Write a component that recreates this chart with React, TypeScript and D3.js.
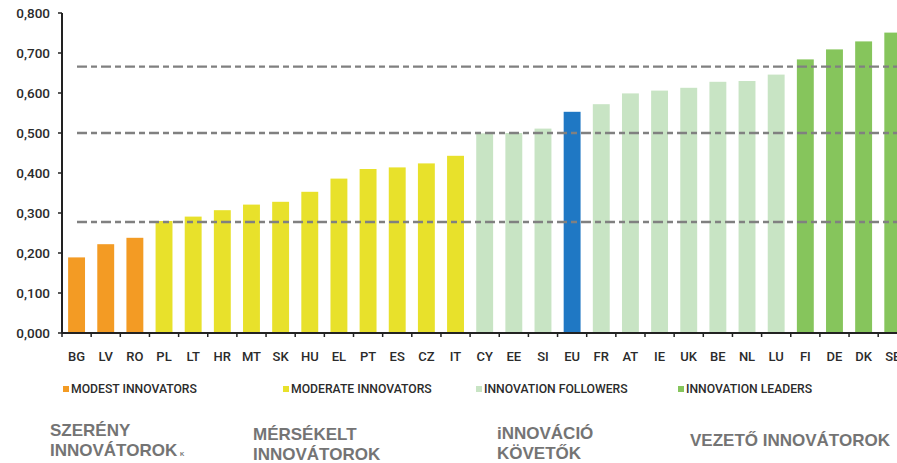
import * as d3 from "d3";

// EU innovation scoreboard, one bar per country
const countries = ["BG", "LV", "RO", "PL", "LT", "HR", "MT", "SK", "HU", "EL", "PT", "ES", "CZ", "IT", "CY", "EE", "SI", "EU", "FR", "AT", "IE", "UK", "BE", "NL", "LU", "FI", "DE", "DK", "SE"];
const scores = [0.189, 0.222, 0.238, 0.28, 0.291, 0.307, 0.321, 0.328, 0.353, 0.386, 0.41, 0.414, 0.424, 0.443, 0.499, 0.5, 0.511, 0.553, 0.572, 0.599, 0.606, 0.613, 0.628, 0.63, 0.646, 0.684, 0.709, 0.729, 0.751];
const groups = ["modest", "modest", "modest", "moderate", "moderate", "moderate", "moderate", "moderate", "moderate", "moderate", "moderate", "moderate", "moderate", "moderate", "follower", "follower", "follower", "eu", "follower", "follower", "follower", "follower", "follower", "follower", "follower", "leader", "leader", "leader", "leader"];
const thresholds = [0.2775, 0.5, 0.666];
const yTicks = [0, 0.1, 0.2, 0.3, 0.4, 0.5, 0.6, 0.7, 0.8];

const legendKeys = ["modest", "moderate", "follower", "leader"];
const legendLabels = ["MODEST INNOVATORS", "MODERATE INNOVATORS", "INNOVATION FOLLOWERS", "INNOVATION LEADERS"];
const legendX = [63, 283, 476, 678];

const COLORS: Record<string, string> = {
  modest: "#f39b24",
  moderate: "#e8e12b",
  follower: "#c8e4c4",
  eu: "#1f78c4",
  leader: "#86c55c",
};

const W = 897;
const H = 463;
const AXIS_FONT = "Roboto, 'Open Sans', sans-serif";
const HU_FONT = "'Liberation Sans', Arial, sans-serif";
const HU_FILL = "#747474";

export default function App() {
  const x = d3
    .scaleBand<string>()
    .domain(countries)
    .range([62, 62 + countries.length * 29.15])
    .paddingInner(0.42)
    .paddingOuter(0.21);
  const y = d3.scaleLinear().domain([0, 0.8]).range([333, 13]);
  const fmt = (d: number) => d3.format(".3f")(d).replace(".", ",");
  const step = x.step();

  return (
    <>
      <style>{"body{margin:0;background:#fff}"}</style>
      <svg width={W} height={H} style={{ display: "block" }}>
        <rect width={W} height={H} fill="#fff" />

        {/* bars */}
        {countries.map((c, i) => (
          <rect
            key={c}
            x={x(c)}
            y={y(scores[i])}
            width={x.bandwidth()}
            height={y(0) - y(scores[i])}
            fill={COLORS[groups[i]]}
          />
        ))}

        {/* group thresholds */}
        {thresholds.map((t) => (
          <line
            key={t}
            x1={77}
            x2={W}
            y1={y(t)}
            y2={y(t)}
            stroke="#808080"
            strokeWidth={2.4}
            strokeDasharray="10,4,6,4"
          />
        ))}

        {/* y axis */}
        <line x1={62} x2={62} y1={y(0.8)} y2={y(0)} stroke="#222" strokeWidth={2} />
        {yTicks.map((t) => (
          <g key={t} transform={`translate(0,${y(t)})`}>
            <line x1={58} x2={62} stroke="#222" strokeWidth={1.5} />
            <text
              x={50}
              dy="0.35em"
              textAnchor="end"
              fontFamily={AXIS_FONT}
              fontWeight={500}
              fontSize={13.5}
              fill="#2b2b2b"
            >
              {fmt(t)}
            </text>
          </g>
        ))}

        {/* x axis */}
        <line x1={62} x2={W} y1={y(0)} y2={y(0)} stroke="#222" strokeWidth={2} />
        {countries.map((c, i) => (
          <g key={c}>
            <line
              x1={62 + i * step}
              x2={62 + i * step}
              y1={y(0)}
              y2={y(0) + 4}
              stroke="#222"
              strokeWidth={1.5}
            />
            <text
              x={(x(c) ?? 0) + x.bandwidth() / 2}
              y={361}
              textAnchor="middle"
              fontFamily={AXIS_FONT}
              fontWeight={500}
              fontSize={13}
              fill="#2b2b2b"
            >
              {c}
            </text>
          </g>
        ))}

        {/* legend */}
        {legendKeys.map((k, i) => (
          <g key={k} transform={`translate(${legendX[i]},389)`}>
            <rect x={0} y={-3} width={6} height={6} fill={COLORS[k]} />
            <text
              x={8}
              dy="0.36em"
              fontFamily={AXIS_FONT}
              fontWeight={500}
              fontSize={12.2}
              fill="#2b2b2b"
            >
              {legendLabels[i]}
            </text>
          </g>
        ))}

        {/* Hungarian group captions */}
        <g fontFamily={HU_FONT} fontWeight={700} fontSize={17} fill={HU_FILL}>
          <text x={50} y={436}>SZERÉNY</text>
          <text x={50} y={456}>INNOVÁTOROK</text>
          <text x={180} y={456} fontSize={6}>K</text>
          <text x={253} y={440}>MÉRSÉKELT</text>
          <text x={253} y={460}>INNOVÁTOROK</text>
          <text x={497} y={439}>iNNOVÁCIÓ</text>
          <text x={497} y={459}>KÖVETŐK</text>
          <text x={690} y={446}>VEZETŐ INNOVÁTOROK</text>
        </g>
      </svg>
    </>
  );
}
